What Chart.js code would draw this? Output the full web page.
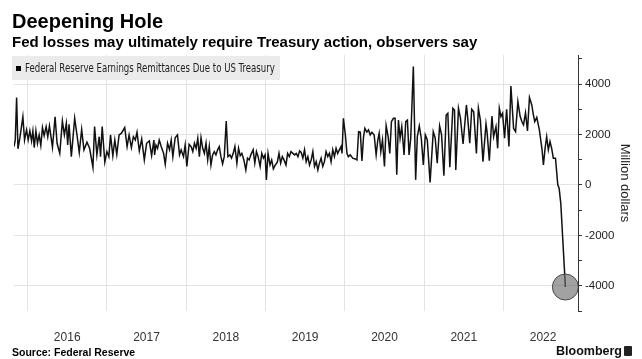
<!DOCTYPE html>
<html><head><meta charset="utf-8">
<script src="https://cdn.jsdelivr.net/npm/chart.js@4.4.1/dist/chart.umd.min.js"></script>
<style>
html,body{margin:0;padding:0;background:#fff;width:642px;height:359px;overflow:hidden;}
#wrap{position:relative;width:642px;height:359px;font-family:"Liberation Sans",Arial,sans-serif;}
#chart{position:absolute;left:0;top:0;}
.t{position:absolute;white-space:nowrap;color:#000;}
#title{left:12px;top:11px;font-size:20px;line-height:20px;font-weight:bold;}
#sub{left:12px;top:34px;font-size:15px;line-height:15px;font-weight:bold;}
#legend{position:absolute;left:12px;top:56px;width:268px;height:24px;background:#ebebeb;}
#legend .mk{position:absolute;left:4px;top:10px;width:5px;height:5px;background:#000;}
#legend .lt{position:absolute;left:13px;top:0;line-height:24px;font-size:11.5px;color:#222;white-space:nowrap;
  font-family:"Liberation Sans Narrow","DejaVu Sans Condensed",sans-serif;transform-origin:0 50%;}
#source{left:12px;top:347px;font-size:10.5px;line-height:11px;font-weight:bold;}
#bb{right:20px;top:345px;font-size:12.5px;line-height:13px;font-weight:bold;color:#111;}
#logo{position:absolute;left:624px;top:346px;width:8px;height:10px;background:#222;border-radius:1px;}
</style></head>
<body><div id="wrap">
<canvas id="chart" width="642" height="359"></canvas>
<div class="t" id="title">Deepening Hole</div>
<div class="t" id="sub">Fed losses may ultimately require Treasury action, observers say</div>
<div id="legend"><div class="mk"></div><div class="lt" id="lt">Federal Reserve Earnings Remittances Due to US Treasury</div></div>
<div class="t" id="source">Source: Federal Reserve</div>
<div class="t" id="bb">Bloomberg</div>
<div id="logo"></div>
</div>
<script>
// Dates as decimal years, values in million dollars
const dates = [
2015.829,2015.845,2015.862,2015.879,2015.904,2015.941,2015.962,2015.987,2016.008,2016.029,
2016.050,2016.067,2016.084,2016.105,2016.125,2016.146,2016.167,2016.188,2016.209,2016.234,
2016.255,2016.276,2016.314,2016.347,2016.372,2016.406,2016.439,2016.464,2016.489,2016.506,
2016.523,2016.552,2016.594,2016.623,2016.652,2016.682,2016.711,2016.749,2016.782,2016.824,
2016.845,2016.874,2016.903,2016.920,2016.941,2016.974,2017.000,2017.025,2017.046,2017.075,
2017.100,2017.125,2017.154,2017.184,2017.225,2017.255,2017.280,2017.309,2017.334,2017.359,
2017.380,2017.409,2017.439,2017.472,2017.501,2017.535,2017.564,2017.593,
2017.602,2017.619,2017.639,2017.660,2017.685,2017.715,2017.736,2017.765,2017.790,2017.811,
2017.832,2017.861,2017.890,2017.916,2017.936,2017.966,2017.987,2018.008,2018.037,2018.062,
2018.083,2018.104,2018.125,2018.146,2018.166,2018.187,2018.208,2018.229,2018.250,2018.271,
2018.291,2018.312,2018.333,2018.354,2018.375,2018.396,2018.417,2018.438,2018.459,2018.480,
2018.505,2018.526,2018.551,2018.572,2018.593,2018.614,2018.639,2018.660,2018.681,2018.702,
2018.727,2018.752,2018.773,2018.794,2018.815,2018.844,2018.865,2018.886,2018.907,2018.932,
2018.953,2018.974,2018.995,2019.011,2019.032,2019.057,2019.078,2019.099,2019.124,2019.149,
2019.170,2019.191,2019.212,2019.233,2019.258,2019.279,2019.300,2019.321,
2019.367,2019.388,2019.409,2019.430,2019.450,2019.471,2019.492,2019.513,2019.534,2019.555,
2019.576,2019.597,2019.618,2019.639,2019.660,2019.680,2019.701,2019.722,2019.743,2019.764,
2019.785,2019.806,2019.827,2019.848,2019.869,2019.890,2019.910,2019.931,2019.952,2019.965,
2019.982,2020.007,2020.027,2020.044,2020.069,2020.099,2020.132,2020.153,2020.174,2020.195,
2020.216,2020.236,2020.253,2020.278,2020.299,2020.320,2020.341,2020.370,2020.395,2020.416,
2020.433,2020.454,2020.475,2020.500,2020.521,2020.546,2020.567,2020.588,2020.613,2020.634,
2020.655,2020.676,2020.697,2020.718,2020.747,2020.768,2020.789,2020.810,2020.831,2020.864,
2020.893,2020.914,2020.939,2020.964,2020.990,2021.015,2021.040,2021.075,
2021.115,2021.140,2021.165,2021.195,2021.220,2021.249,2021.278,2021.299,2021.324,2021.362,
2021.383,2021.399,2021.433,2021.458,2021.491,2021.533,2021.550,2021.575,2021.600,2021.625,
2021.659,2021.684,2021.709,2021.742,2021.780,2021.793,2021.822,2021.855,2021.876,2021.906,
2021.927,2021.948,2021.969,2021.989,2022.014,2022.040,2022.069,2022.094,2022.128,2022.153,
2022.182,2022.211,2022.232,2022.253,2022.278,2022.303,2022.328,2022.357,2022.378,2022.395,
2022.420,2022.453,2022.487,2022.504,2022.525,2022.545,2022.566,2022.587,2022.608,2022.629,
2022.656,2022.685,2022.702,2022.723,2022.781
];
const remittances = [
1520,1780,3460,1430,1880,2700,1780,2180,1780,2140,
1740,2140,1480,2140,1650,1980,1560,2270,1950,2310,
1910,2340,1490,2700,1650,1250,2530,1980,2440,1580,
2400,1120,2640,1980,1280,2200,1390,1690,1450,700,
2310,1190,1910,1120,2310,900,1320,1120,1980,1150,
1780,1210,1980,2050,2270,1520,1980,1480,1910,1780,
2090,1350,1820,990,1650,1740,1160,1780,
1190,1580,1450,1780,1520,1250,820,1650,1390,1780,
1120,1870,1980,1190,1390,1120,1580,730,1610,1520,
1320,1650,1450,1850,1120,1870,1450,1250,1650,990,
1520,790,1190,1320,1190,1390,1520,1120,830,1120,
2530,1120,1190,1060,1250,1520,860,1450,1160,1250,
990,590,1060,990,1190,1390,860,1320,1120,730,
1250,1060,1190,200,1250,790,990,630,790,900,
1250,860,1120,990,790,1250,1120,1320,
1190,1250,1120,1350,1290,1060,1390,920,1120,790,
990,1320,730,920,590,860,1060,730,920,1320,
1120,1250,920,1390,1120,1450,1250,1390,1520,1250,
2640,1980,1250,1120,1190,1060,1030,990,2110,2090,
950,1910,2240,2090,2180,1980,2090,1980,1190,1780,
2050,1320,1780,730,2350,1910,1250,2510,2640,2640,
400,2570,1850,2310,1190,2510,2570,1190,1850,4690,
200,1910,2340,1850,790,1980,1780,100,
2110,1850,860,2340,1980,360,2770,2840,700,3040,
2970,590,3040,2640,1620,3170,2640,1650,3000,2900,
1250,3040,2570,920,2420,2110,960,2730,1910,2310,
1450,3040,2710,2840,1850,3000,1520,3920,2240,2110,
3300,2710,2510,2380,2860,2140,3470,3170,2770,2510,
2680,2180,1390,790,1450,1910,1390,1720,1450,1060,
1060,0,-130,-730,-4050
];
const yearLabels = ['2016','2017','2018','2019','2020','2021','2022'];
const yTickValues = [-5000,-4000,-3000,-2000,-1000,0,1000,2000,3000,4000,5000];
const yLabelValues = [-4000,-2000,0,2000,4000];
const seriesName = 'Federal Reserve Earnings Remittances Due to US Treasury';
const axisTitle = 'Million dollars';

// fit legend text to legend box width
(function(){
  const el = document.getElementById('lt');
  const w = el.getBoundingClientRect().width;
  const target = 250;
  if (w > 0) el.style.transform = 'scaleX(' + (target / w).toFixed(3) + ')';
})();

const points = dates.map((d, i) => ({x: d, y: remittances[i]}));
const last = points.length - 1;
const xTicks = [];
yearLabels.forEach(y => { xTicks.push(+y); xTicks.push(+y + 0.5); });

new Chart(document.getElementById('chart'), {
  type: 'line',
  data: { datasets: [{
    label: seriesName,
    data: points,
    borderColor: '#111',
    borderWidth: 1.5,
    tension: 0,
    pointRadius: ctx => ctx.dataIndex === last ? 13 : 0,
    pointHoverRadius: 0,
    pointBackgroundColor: 'rgba(105,105,105,0.62)',
    pointBorderColor: '#4a4a4a',
    pointBorderWidth: 1
  }]},
  options: {
    responsive: false,
    animation: false,
    devicePixelRatio: 1,
    layout: { padding: { top: 55, left: 12, right: 6, bottom: 0 } },
    plugins: { legend: { display: false }, tooltip: { enabled: false } },
    scales: {
      x: {
        type: 'linear',
        min: dates[0],
        max: 2022.94,
        afterBuildTicks: s => { s.ticks = xTicks.map(v => ({value: v})); },
        afterFit: s => { s.height = 48; },
        grid: {
          color: c => (c.tick && Number.isInteger(c.tick.value)) ? '#e3e3e3' : 'rgba(0,0,0,0)',
          lineWidth: 1,
          drawTicks: false
        },
        border: { display: false },
        ticks: {
          autoSkip: false, maxRotation: 0, padding: 19,
          color: '#333',
          font: { family: '"Liberation Sans", Arial, sans-serif', size: 12 },
          callback: v => Number.isInteger(v) ? '' : String(Math.floor(v))
        }
      },
      y: {
        position: 'right',
        min: -5000,
        max: 5150,
        afterBuildTicks: s => { s.ticks = yTickValues.map(v => ({value: v})); },
        afterFit: s => { s.width = 58; },
        ticks: {
          autoSkip: false, padding: 3,
          color: '#222',
          font: { family: '"Liberation Sans", Arial, sans-serif', size: 11.5 },
          callback: v => yLabelValues.includes(v) ? String(v) : ''
        },
        grid: {
          color: c => (c.tick && yLabelValues.includes(c.tick.value)) ? '#e3e3e3' : 'rgba(0,0,0,0)',
          tickColor: '#333',
          tickLength: 4,
          lineWidth: 1
        },
        border: { display: true, color: '#333', width: 1 },
        title: {
          display: true, text: axisTitle, color: '#222',
          font: { family: '"Liberation Sans", Arial, sans-serif', size: 13 },
          padding: { top: 4, bottom: 4 }
        }
      }
    }
  }
});
</script>
</body></html>
